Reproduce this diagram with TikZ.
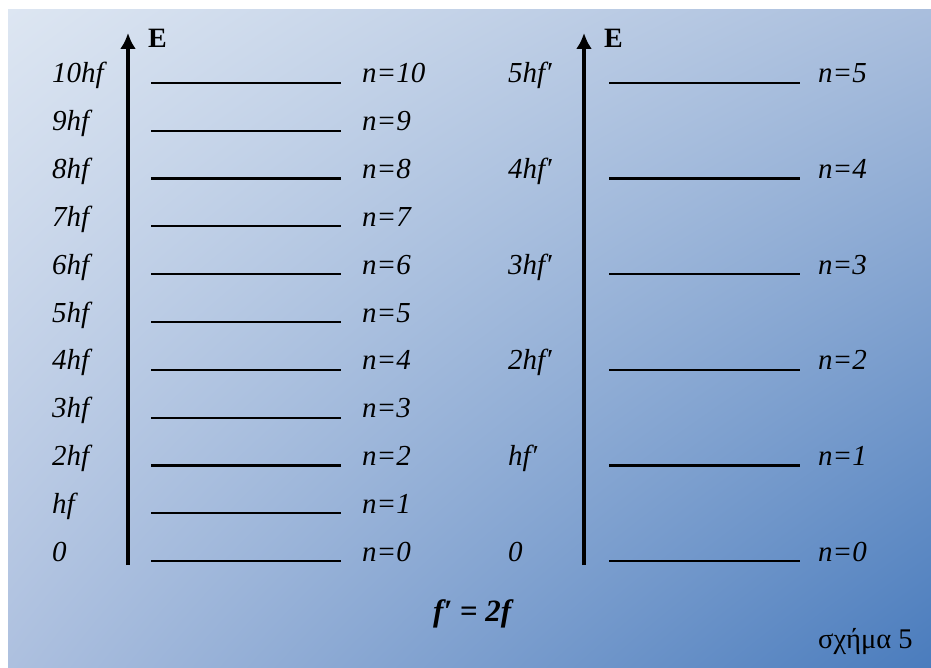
\documentclass[tikz,border=0pt]{standalone}
\usepackage{fontspec}
\setmainfont{Liberation Serif}
\usetikzlibrary{arrows.meta,shadings}
\definecolor{bgUL}{HTML}{DDE6F2}
\definecolor{bgUR}{HTML}{A9BEDD}
\definecolor{bgLL}{HTML}{ADC0DF}
\definecolor{bgLR}{HTML}{4A7CBD}
\tikzset{
  lbl/.style={inner sep=0pt, anchor=base west, font=\fontsize{29}{31}\selectfont\itshape},
  elbl/.style={inner sep=0pt, anchor=base west, font=\fontsize{28}{30}\selectfont\bfseries},
  levelline/.style={line width=2.2pt},
  axisarrow/.style={line width=4pt, -{Latex[length=16pt,width=16pt]}}
}
\begin{document}
\begin{tikzpicture}[x=1pt,y=-1pt]
\useasboundingbox (0,0) rectangle (931,668);
\shade[upper left=bgUL, upper right=bgUR, lower left=bgLL, lower right=bgLR] (8,10) rectangle (931,668);
% left diagram
\coordinate (la0) at (128,565);
\coordinate (la1) at (128,33);
\draw[axisarrow] (la0) -- (la1);
\node[elbl] (le) at (148,48) {E};
\foreach \i in {0,...,10} {
  \pgfmathsetmacro{\yy}{561-47.8*\i}
  \draw[levelline] (151,\yy) -- (341,\yy);
  \node[lbl] (ln\i) at (362,\yy) {n=\i};
  \ifnum\i=0 \node[lbl] (le\i) at (52,\yy) {0};
  \else\ifnum\i=1 \node[lbl] (le\i) at (52,\yy) {hf};
  \else \node[lbl] (le\i) at (52,\yy) {\i hf};
  \fi\fi
}
% right diagram
\coordinate (ra0) at (584,565);
\coordinate (ra1) at (584,33);
\draw[axisarrow] (ra0) -- (ra1);
\node[elbl] (re) at (604,48) {E};
\foreach \i in {0,...,5} {
  \pgfmathsetmacro{\yy}{561-95.6*\i}
  \draw[levelline] (609,\yy) -- (800,\yy);
  \node[lbl] (rn\i) at (818,\yy) {n=\i};
  \ifnum\i=0 \node[lbl] (re\i) at (508,\yy) {0};
  \else\ifnum\i=1 \node[lbl] (re\i) at (508,\yy) {hf′};
  \else \node[lbl] (re\i) at (508,\yy) {\i hf′};
  \fi\fi
}
\node[inner sep=0pt, anchor=base west, font=\fontsize{31}{33}\selectfont\bfseries\itshape] (eq) at (433,621) {f′ = 2f};
\node[inner sep=0pt, anchor=base west, font=\fontsize{28.5}{30}\selectfont] (cap) at (818,648) {σχήμα 5};
\end{tikzpicture}
\end{document}
